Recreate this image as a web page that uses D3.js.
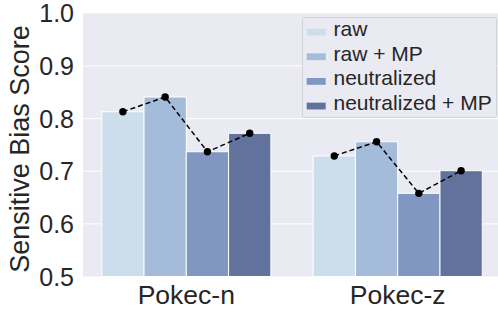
<!DOCTYPE html>
<html lang="en">
  <head>
    <meta charset="utf-8">
    <title>Sensitive Bias Score</title>
    <script src="https://d3js.org/d3.v7.min.js"></script>
    <style>
      body { margin: 0; background: #fff; }
      text { font-family: "Liberation Sans", Arial, sans-serif; fill: #262626; }
    </style>
  </head>
  <body>
    <svg id="chart" width="498" height="311"></svg>
    <script type="text/javascript">
      // data
      var categories = ["Pokec-n", "Pokec-z"];
      var seriesNames = ["raw", "raw + MP", "neutralized", "neutralized + MP"];
      var pokecN = [0.813, 0.841, 0.737, 0.772];
      var pokecZ = [0.729, 0.756, 0.658, 0.701];
      var yTicks = [0.5, 0.6, 0.7, 0.8, 0.9, 1.0];
      var colors = ["#ccdeec", "#a4bbda", "#7f97c1", "#61729d"];

      var values = { "Pokec-n": pokecN, "Pokec-z": pokecZ };

      var svg = d3.select("#chart");
      var plotLeft = 83, plotRight = 498, plotTop = 13.3, plotBottom = 276.5;

      var y = d3.scaleLinear().domain([0.5, 1.0]).range([plotBottom, plotTop]);
      var x0 = d3.scaleBand().domain(categories).range([80.6, 503.4]);
      var bw = x0.bandwidth();
      var x1 = d3.scaleBand().domain(seriesNames).range([0.1 * bw, 0.9 * bw]);
      var color = d3.scaleOrdinal().domain(seriesNames).range(colors);

      // background
      svg.append("rect")
        .attr("x", plotLeft).attr("y", plotTop)
        .attr("width", plotRight - plotLeft).attr("height", plotBottom - plotTop)
        .attr("fill", "#eaeaf2");

      // grid
      svg.selectAll(".grid").data(yTicks.slice(1, -1)).enter().append("line")
        .attr("class", "grid")
        .attr("x1", plotLeft).attr("x2", plotRight)
        .attr("y1", function(d) { return y(d); })
        .attr("y2", function(d) { return y(d); })
        .attr("stroke", "#fff").attr("stroke-width", 1);

      // y tick labels
      svg.selectAll(".ytick").data(yTicks).enter().append("text")
        .attr("class", "ytick")
        .attr("x", plotLeft - 9)
        .attr("y", function(d) { return y(d); })
        .attr("dy", "0.36em")
        .attr("text-anchor", "end")
        .style("font-size", "25px")
        .text(function(d) { return d.toFixed(1); });

      // y label
      svg.append("text")
        .attr("transform", "translate(29,149) rotate(-90)")
        .attr("text-anchor", "middle")
        .style("font-size", "27px")
        .text("Sensitive Bias Score");

      // x tick labels
      svg.selectAll(".xtick").data(categories).enter().append("text")
        .attr("class", "xtick")
        .attr("x", function(d) { return x0(d) + bw / 2; })
        .attr("y", 304)
        .attr("text-anchor", "middle")
        .style("font-size", "26.5px")
        .text(function(d) { return d; });

      // bars + dashed line per group
      var groups = svg.selectAll(".group").data(categories).enter().append("g")
        .attr("class", "group")
        .attr("transform", function(d) { return "translate(" + x0(d) + ",0)"; });

      groups.selectAll("rect")
        .data(function(c) { return seriesNames.map(function(s, i) { return { key: s, value: values[c][i] }; }); })
        .enter().append("rect")
        .attr("x", function(d) { return x1(d.key); })
        .attr("y", function(d) { return y(d.value); })
        .attr("width", x1.bandwidth())
        .attr("height", function(d) { return y(0.5) - y(d.value); })
        .attr("fill", function(d) { return color(d.key); })
        .attr("stroke", "#fff").attr("stroke-width", 1);

      var line = d3.line()
        .x(function(d) { return x1(d.key) + x1.bandwidth() / 2; })
        .y(function(d) { return y(d.value); });

      groups.append("path")
        .datum(function(c) { return seriesNames.map(function(s, i) { return { key: s, value: values[c][i] }; }); })
        .attr("d", line)
        .attr("fill", "none")
        .attr("stroke", "#000")
        .attr("stroke-width", 1.5)
        .attr("stroke-dasharray", "5,3");

      groups.selectAll("circle")
        .data(function(c) { return seriesNames.map(function(s, i) { return { key: s, value: values[c][i] }; }); })
        .enter().append("circle")
        .attr("cx", function(d) { return x1(d.key) + x1.bandwidth() / 2; })
        .attr("cy", function(d) { return y(d.value); })
        .attr("r", 3.7)
        .attr("fill", "#000");

      // legend
      var legend = svg.append("g");
      legend.append("rect")
        .attr("x", 302.5).attr("y", 17.5)
        .attr("width", 194).attr("height", 100)
        .attr("rx", 2)
        .attr("fill", "#eaeaf2").attr("fill-opacity", 0.9)
        .attr("stroke", "#d2d2d8").attr("stroke-width", 1);

      var items = legend.selectAll(".item").data(seriesNames).enter().append("g")
        .attr("class", "item")
        .attr("transform", function(d, i) { return "translate(0," + (36 + i * 24.65) + ")"; });

      items.append("rect")
        .attr("x", 306.7).attr("y", -7.3)
        .attr("width", 19).attr("height", 6.8)
        .attr("fill", function(d) { return color(d); });

      items.append("text")
        .attr("x", 333.5).attr("y", 0)
        .style("font-size", "21px")
        .text(function(d) { return d; });
    </script>
  </body>
</html>
